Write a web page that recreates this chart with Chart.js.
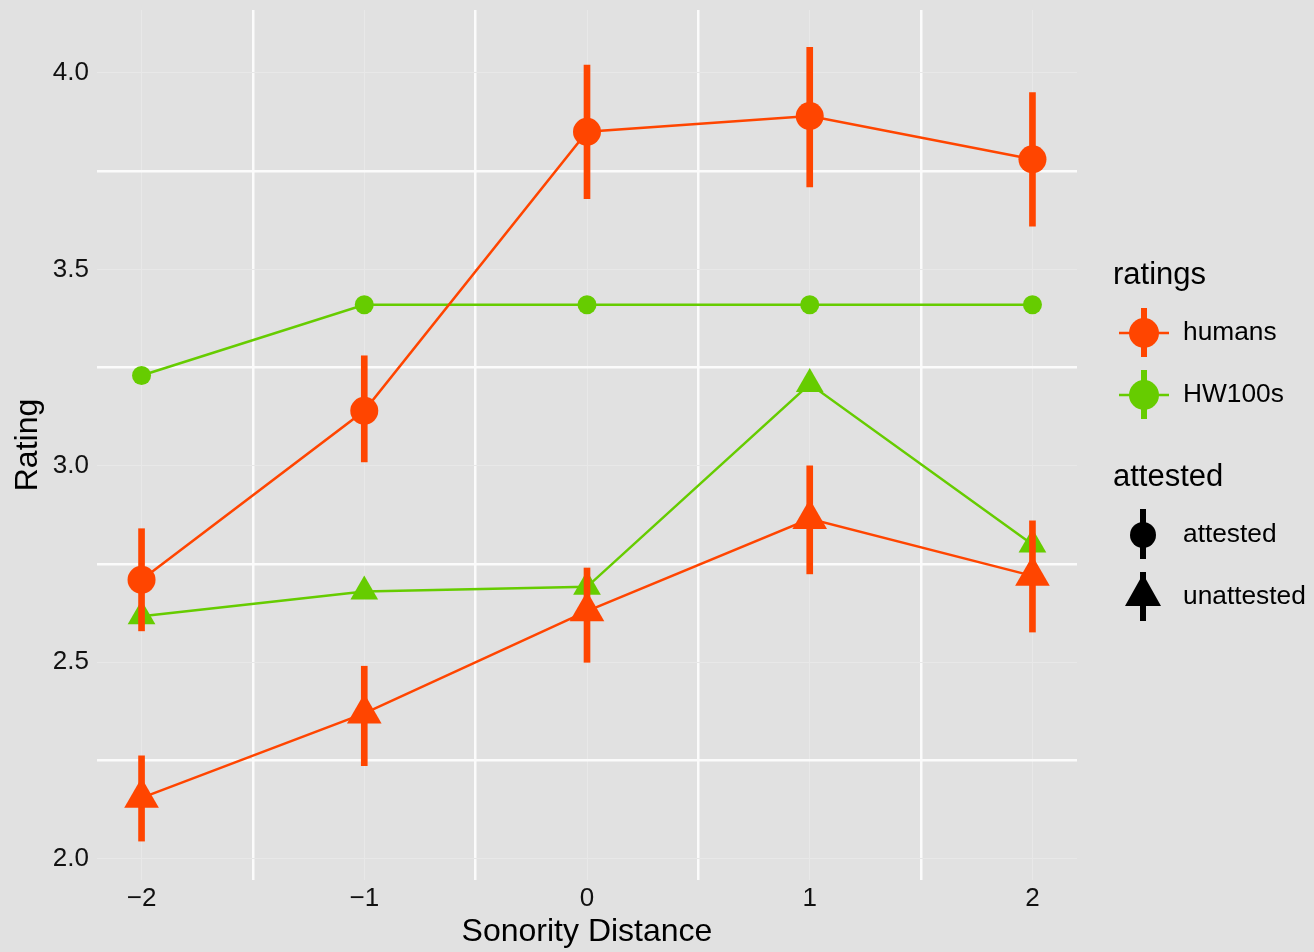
<!DOCTYPE html>
<html>
<head>
<meta charset="utf-8">
<script src="https://cdn.jsdelivr.net/npm/chart.js@4/dist/chart.umd.min.js"></script>
<style>
  body { margin: 0; background: #e1e1e1; }
  canvas { display: block; }
</style>
</head>
<body>
<canvas id="ratingChart" width="1314" height="952"></canvas>
<script>
  // valores
  const sonority = [-2, -1, 0, 1, 2];
  const humansAttested = [2.71, 3.14, 3.85, 3.89, 3.78];
  const humansAttestedLo = [2.58, 3.01, 3.68, 3.71, 3.61];
  const humansAttestedHi = [2.84, 3.28, 4.02, 4.065, 3.95];
  const humansUnattested = [2.155, 2.37, 2.63, 2.865, 2.72];
  const humansUnattestedLo = [2.045, 2.237, 2.50, 2.725, 2.577];
  const humansUnattestedHi = [2.262, 2.49, 2.74, 3.0, 2.86];
  const hwAttested = [3.23, 3.41, 3.41, 3.41, 3.41];
  const hwUnattested = [2.617, 2.68, 2.692, 3.208, 2.80];
  const yTicks = [2.0, 2.25, 2.5, 2.75, 3.0, 3.25, 3.5, 3.75, 4.0];
  const xTicks = [-2, -1.5, -1, -0.5, 0, 0.5, 1, 1.5, 2];

  const orange = '#ff4500';
  const green = '#66cc00';
  const font = '"Liberation Sans", Arial, sans-serif';

  const pts = vals => sonority.map((x, i) => ({ x: x, y: vals[i] }));
  const bars = (lo, hi) => sonority.map((x, i) => ({ x: x, y: [lo[i], hi[i]] }));
  // minor = between labelled ticks
  const xMinor = c => !!c.tick && Math.abs(c.tick.value % 1) > 0.01;
  const yMinor = c => !!c.tick && Math.abs((c.tick.value * 2) % 1) > 0.01;
  const noPad = axis => {
    axis.paddingTop = 0; axis.paddingBottom = 0;
    axis.paddingLeft = 0; axis.paddingRight = 0;
  };

  // leyenda dibujada a mano (dos grupos)
  const legendPlugin = {
    id: 'customLegend',
    afterDraw(chart) {
      const ctx = chart.ctx;
      ctx.save();
      ctx.fillStyle = '#000';
      ctx.textBaseline = 'middle';
      ctx.font = '31px ' + font;
      ctx.fillText('ratings', 1113, 275);
      ctx.fillText('attested', 1113, 477);
      ctx.font = '26.3px ' + font;
      ctx.fillText('humans', 1183, 333);
      ctx.fillText('HW100s', 1183, 395);
      ctx.fillText('attested', 1183, 535);
      ctx.fillText('unattested', 1183, 597);

      [[333, orange], [395, green]].forEach(([y, c]) => {
        ctx.strokeStyle = c;
        ctx.lineWidth = 2.5;
        ctx.beginPath(); ctx.moveTo(1119, y); ctx.lineTo(1169, y); ctx.stroke();
        ctx.lineWidth = 6;
        ctx.beginPath(); ctx.moveTo(1144, y - 25); ctx.lineTo(1144, y + 24); ctx.stroke();
        ctx.fillStyle = c;
        ctx.beginPath(); ctx.arc(1144, y, 15, 0, Math.PI * 2); ctx.fill();
      });

      ctx.strokeStyle = '#000';
      ctx.fillStyle = '#000';
      ctx.lineWidth = 6;
      ctx.beginPath(); ctx.moveTo(1143, 509); ctx.lineTo(1143, 559); ctx.stroke();
      ctx.beginPath(); ctx.arc(1143, 535, 13, 0, Math.PI * 2); ctx.fill();
      ctx.beginPath(); ctx.moveTo(1143, 572); ctx.lineTo(1143, 621); ctx.stroke();
      ctx.beginPath(); ctx.moveTo(1143, 574); ctx.lineTo(1161, 606); ctx.lineTo(1125, 606); ctx.closePath(); ctx.fill();
      ctx.restore();
    }
  };

  new Chart(document.getElementById('ratingChart'), {
    type: 'line',
    data: {
      datasets: [
        {
          label: 'HW100s attested',
          data: pts(hwAttested),
          borderColor: green, backgroundColor: green,
          borderWidth: 2.5, pointRadius: 9.5, pointStyle: 'circle',
          pointBorderWidth: 0, order: 20
        },
        {
          label: 'HW100s unattested',
          data: pts(hwUnattested),
          borderColor: green, backgroundColor: green,
          borderWidth: 2.5, pointRadius: 16, pointStyle: 'triangle',
          pointBorderWidth: 0, order: 19
        },
        {
          type: 'bar',
          label: 'humans attested err',
          data: bars(humansAttestedLo, humansAttestedHi),
          backgroundColor: orange, barThickness: 6, grouped: false,
          borderWidth: 0, order: 10
        },
        {
          type: 'bar',
          label: 'humans unattested err',
          data: bars(humansUnattestedLo, humansUnattestedHi),
          backgroundColor: orange, barThickness: 6, grouped: false,
          borderWidth: 0, order: 9
        },
        {
          label: 'humans attested',
          data: pts(humansAttested),
          borderColor: orange, backgroundColor: orange,
          borderWidth: 2.5, pointRadius: 14, pointStyle: 'circle',
          pointBorderWidth: 0, order: 2
        },
        {
          label: 'humans unattested',
          data: pts(humansUnattested),
          borderColor: orange, backgroundColor: orange,
          borderWidth: 2.5, pointRadius: 20, pointStyle: 'triangle',
          pointBorderWidth: 0, order: 1
        }
      ]
    },
    options: {
      responsive: false,
      animation: false,
      layout: { autoPadding: false, padding: { top: 10, right: 237, left: 0, bottom: 0 } },
      plugins: { legend: { display: false }, tooltip: { enabled: false } },
      elements: { line: { tension: 0 } },
      scales: {
        x: {
          type: 'linear', min: -2.2, max: 2.2, offset: false,
          afterBuildTicks: axis => { axis.ticks = xTicks.map(v => ({ value: v })); },
          afterFit: axis => { axis.height = 72; noPad(axis); },
          border: { display: false },
          grid: {
            drawTicks: false, offset: false,
            color: c => (xMinor(c) ? '#fbfbfb' : '#e8e8e8'),
            lineWidth: c => (xMinor(c) ? 2.5 : 1)
          },
          ticks: {
            autoSkip: false, maxRotation: 0, padding: 3,
            color: '#111', font: { size: 26, family: font },
            callback: v => (Math.abs(v % 1) > 0.01 ? '' : (v < 0 ? '\u2212' + Math.abs(v) : String(v)))
          },
          title: {
            display: true, text: 'Sonority Distance', color: '#000',
            font: { size: 32, family: font }, padding: { top: 0, bottom: 1 }
          }
        },
        y: {
          min: 1.946, max: 4.16,
          afterBuildTicks: axis => { axis.ticks = yTicks.map(v => ({ value: v })); },
          afterFit: axis => { axis.width = 97; noPad(axis); },
          border: { display: false },
          grid: {
            drawTicks: false,
            color: c => (yMinor(c) ? '#fbfbfb' : '#e8e8e8'),
            lineWidth: c => (yMinor(c) ? 2.5 : 1)
          },
          ticks: {
            autoSkip: false, padding: 8,
            color: '#111', font: { size: 26, family: font },
            callback: v => (Math.abs((v * 2) % 1) > 0.01 ? '' : v.toFixed(1))
          },
          title: {
            display: true, text: 'Rating', color: '#000',
            font: { size: 32, family: font }, padding: { top: 9, bottom: 0 }
          }
        }
      }
    },
    plugins: [legendPlugin]
  });
</script>
</body>
</html>
